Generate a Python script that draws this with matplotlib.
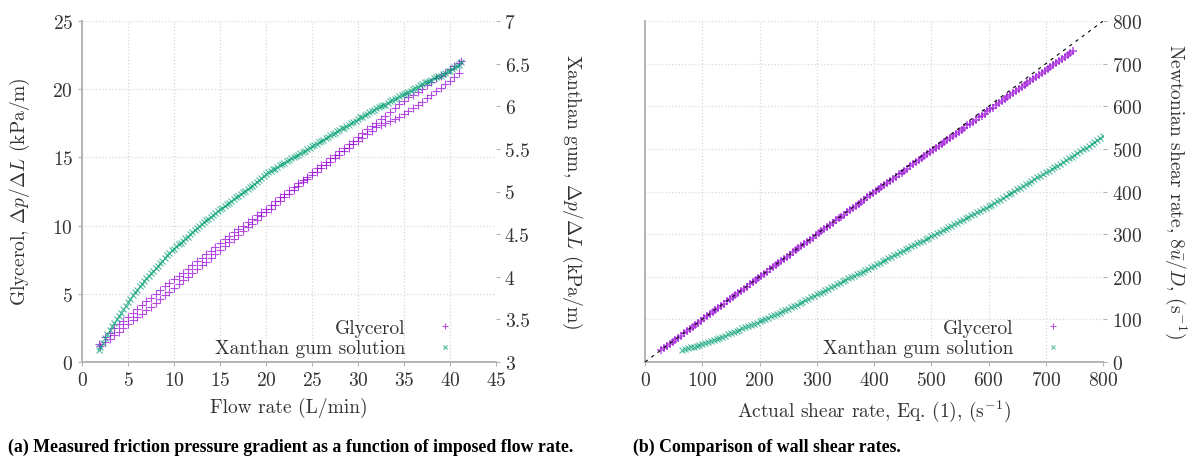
import numpy as np
import matplotlib
matplotlib.use('Agg')
import matplotlib.pyplot as plt

# ---- (a) friction pressure gradient vs flow rate ----
# glycerol, lower sweep (kPa/m, left axis)
gly_q_1 = [2, 2.5, 3, 3.5, 4, 4.5, 5, 5.5, 6, 6.5, 7, 7.5, 8, 8.5, 9, 9.5, 10, 10.5,
           11, 11.5, 12, 12.5, 13, 13.5, 14, 14.5, 15, 15.5, 16, 16.5, 17, 17.5, 18,
           18.5, 19, 19.5, 20, 20.5, 21, 21.5, 22, 22.5, 23, 23.5, 24, 24.5, 25, 25.5,
           26, 26.5, 27, 27.5, 28, 28.5, 29, 29.5, 30, 30.5, 31, 31.5, 32, 32.5, 33,
           33.5, 34, 34.5, 35, 35.5, 36, 36.5, 37, 37.5, 38, 38.5, 39, 39.5, 40, 40.5, 41]
gly_dp_1 = [1.2, 1.45, 1.7, 1.95, 2.2, 2.5, 2.8, 3.05, 3.3, 3.55, 3.8, 4.05, 4.3, 4.6,
            4.9, 5.15, 5.4, 5.7, 6.0, 6.25, 6.5, 6.8, 7.1, 7.35, 7.6, 7.9, 8.2, 8.5, 8.8,
            9.05, 9.3, 9.6, 9.9, 10.15, 10.4, 10.7, 11.0, 11.25, 11.5, 11.8, 12.1, 12.35,
            12.6, 12.9, 13.2, 13.45, 13.7, 13.95, 14.2, 14.45, 14.7, 14.95, 15.2, 15.45,
            15.7, 15.95, 16.2, 16.45, 16.7, 16.95, 17.2, 17.35, 17.5, 17.65, 17.8, 18.0,
            18.2, 18.4, 18.6, 18.85, 19.1, 19.35, 19.6, 19.85, 20.1, 20.35, 20.6, 20.9, 21.2]
# glycerol, upper sweep
gly_q_2 = [1.8, 2.5, 3, 3.5, 4, 4.5, 5, 5.5, 6, 6.5, 7, 7.5, 8, 8.5, 9, 9.5, 10, 10.5,
           11, 11.5, 12, 12.5, 13, 13.5, 14, 14.5, 15, 15.5, 16, 16.5, 17, 17.5, 18,
           18.5, 19, 19.5, 20, 20.5, 21, 21.5, 22, 22.5, 23, 23.5, 24, 24.5, 25, 25.5,
           26, 26.5, 27, 27.5, 28, 28.5, 29, 29.5, 30, 30.5, 31, 31.5, 32, 32.5, 33,
           33.5, 34, 34.5, 35, 35.5, 36, 36.5, 37, 37.5, 38, 38.5, 39, 39.5, 40, 40.5,
           41, 41.2]
gly_dp_2 = [1.3, 1.8, 2.15, 2.5, 2.75, 3.0, 3.3, 3.6, 3.9, 4.2, 4.45, 4.7, 5.0, 5.3,
            5.55, 5.8, 6.05, 6.3, 6.55, 6.8, 7.1, 7.4, 7.65, 7.9, 8.15, 8.4, 8.7, 9.0,
            9.25, 9.5, 9.75, 10.0, 10.25, 10.5, 10.75, 11.0, 11.25, 11.5, 11.8, 12.1,
            12.35, 12.6, 12.85, 13.1, 13.35, 13.6, 13.9, 14.2, 14.45, 14.7, 14.95, 15.2,
            15.45, 15.7, 15.95, 16.2, 16.5, 16.8, 17.05, 17.3, 17.55, 17.8, 18.05, 18.3,
            18.6, 18.9, 19.15, 19.4, 19.6, 19.8, 20.05, 20.3, 20.55, 20.8, 21.0, 21.2,
            21.45, 21.7, 21.95, 22.1]

# xanthan gum solution, two sweeps (kPa/m, right axis)
xan_q_1 = [2, 2.5, 3, 3.5, 4, 4.5, 5, 5.5, 6, 6.5, 7, 7.5, 8, 8.5, 9, 9.5, 10, 10.5,
           11, 11.5, 12, 12.5, 13, 13.5, 14, 14.5, 15, 15.5, 16, 16.5, 17, 17.5, 18,
           18.5, 19, 19.5, 20, 20.5, 21, 21.5, 22, 22.5, 23, 23.5, 24, 24.5, 25, 25.5,
           26, 26.5, 27, 27.5, 28, 28.5, 29, 29.5, 30, 30.5, 31, 31.5, 32, 32.5, 33,
           33.5, 34, 34.5, 35, 35.5, 36, 36.5, 37, 37.5, 38, 38.5, 39, 39.5, 40, 40.5, 41]
xan_dp_1 = [3.18, 3.28, 3.37, 3.46, 3.54, 3.62, 3.70, 3.78, 3.85, 3.92, 3.98, 4.04,
            4.10, 4.16, 4.22, 4.28, 4.33, 4.38, 4.42, 4.47, 4.52, 4.57, 4.62, 4.66, 4.70,
            4.75, 4.79, 4.83, 4.87, 4.91, 4.95, 4.99, 5.03, 5.07, 5.11, 5.16, 5.21, 5.24,
            5.27, 5.31, 5.34, 5.37, 5.40, 5.43, 5.46, 5.50, 5.53, 5.56, 5.59, 5.63, 5.66,
            5.69, 5.72, 5.75, 5.78, 5.82, 5.85, 5.88, 5.91, 5.95, 5.98, 6.00, 6.02, 6.06,
            6.09, 6.12, 6.14, 6.17, 6.20, 6.23, 6.26, 6.29, 6.31, 6.34, 6.36, 6.39, 6.42,
            6.46, 6.49]
xan_q_2 = [1.8, 2.25, 2.75, 3.25, 3.75, 4.25, 4.75, 5.25, 5.75, 6.25, 6.75, 7.25, 7.75,
           8.25, 8.75, 9.25, 9.75, 10.25, 10.75, 11.25, 11.75, 12.25, 12.75, 13.25, 13.75,
           14.25, 14.75, 15.25, 15.75, 16.25, 16.75, 17.25, 17.75, 18.25, 18.75, 19.25,
           19.75, 20.25, 20.75, 21.25, 21.75, 22.25, 22.75, 23.25, 23.75, 24.25, 24.75,
           25.25, 25.75, 26.25, 26.75, 27.25, 27.75, 28.25, 28.75, 29.25, 29.75, 30.25,
           30.75, 31.25, 31.75, 32.25, 32.75, 33.25, 33.75, 34.25, 34.75, 35.25, 35.75,
           36.25, 36.75, 37.25, 37.75, 38.25, 38.75, 39.25, 39.75, 40.25, 40.75, 41.2]
xan_dp_2 = [3.14, 3.22, 3.33, 3.42, 3.50, 3.58, 3.66, 3.74, 3.82, 3.89, 3.95, 4.01,
            4.07, 4.13, 4.19, 4.25, 4.31, 4.36, 4.40, 4.45, 4.50, 4.55, 4.60, 4.64, 4.68,
            4.72, 4.77, 4.81, 4.85, 4.89, 4.93, 4.97, 5.01, 5.05, 5.09, 5.13, 5.18, 5.23,
            5.26, 5.29, 5.32, 5.36, 5.39, 5.42, 5.45, 5.48, 5.51, 5.55, 5.58, 5.61, 5.64,
            5.68, 5.71, 5.74, 5.77, 5.80, 5.83, 5.87, 5.90, 5.93, 5.96, 5.99, 6.01, 6.04,
            6.07, 6.10, 6.13, 6.16, 6.18, 6.22, 6.25, 6.28, 6.30, 6.33, 6.35, 6.38, 6.41,
            6.44, 6.47, 6.52]

# ---- (b) wall shear rates (1/s) ----
gly_actual_1 = [28, 38, 48, 58, 68, 78, 88, 98, 108, 118, 128, 138, 148, 158, 168, 178,
                188, 198, 208, 218, 228, 238, 248, 258, 268, 278, 288, 298, 308, 318, 328,
                338, 348, 358, 368, 378, 388, 398, 408, 418, 428, 438, 448, 458, 468, 478,
                488, 498, 508, 518, 528, 538, 548, 558, 568, 578, 588, 598, 608, 618, 628,
                638, 648, 658, 668, 678, 688, 698, 708, 718, 728, 738, 748]
gly_newt_1 = [27, 37, 47, 57, 67, 77, 87, 97, 107, 117, 127, 137, 147, 157, 167, 177,
              187, 197, 207, 217, 227, 237, 247, 257, 267, 277, 287, 297, 307, 317, 327,
              337, 346, 356, 366, 376, 386, 396, 405, 415, 425, 435, 444, 454, 464, 473,
              483, 492, 502, 512, 521, 531, 540, 550, 559, 569, 578, 588, 597, 607, 616,
              626, 635, 645, 654, 663, 673, 682, 692, 701, 711, 720, 730]
gly_actual_2 = [33, 43, 53, 63, 73, 83, 93, 103, 113, 123, 133, 143, 153, 163, 173, 183,
                193, 203, 213, 223, 233, 243, 253, 263, 273, 283, 293, 303, 313, 323, 333,
                343, 353, 363, 373, 383, 393, 403, 413, 423, 433, 443, 453, 463, 473, 483,
                493, 503, 513, 523, 533, 543, 553, 563, 573, 583, 593, 603, 613, 623, 633,
                643, 653, 663, 673, 683, 693, 703, 713, 723, 733, 743]
gly_newt_2 = [32, 42, 52, 62, 72, 82, 92, 102, 112, 122, 132, 142, 152, 162, 172, 182,
              192, 202, 212, 222, 232, 242, 252, 262, 272, 282, 292, 302, 312, 322, 332,
              341, 351, 361, 371, 381, 391, 401, 410, 420, 430, 440, 449, 459, 469, 478,
              488, 497, 507, 517, 526, 536, 545, 555, 564, 574, 583, 593, 602, 612, 621,
              631, 640, 650, 659, 668, 678, 687, 697, 706, 716, 725]
xan_actual_1 = [65, 75, 85, 95, 105, 115, 125, 135, 145, 155, 165, 175, 185, 195, 205,
                215, 225, 235, 245, 255, 265, 275, 285, 295, 305, 315, 325, 335, 345, 355,
                365, 375, 385, 395, 405, 415, 425, 435, 445, 455, 465, 475, 485, 495, 505,
                515, 525, 535, 545, 555, 565, 575, 585, 595, 605, 615, 625, 635, 645, 655,
                665, 675, 685, 695, 705, 715, 725, 735, 745, 755, 765, 775, 785, 795, 800]
xan_newt_1 = [28, 32, 36, 40, 44, 49, 54, 59, 65, 70, 76, 81, 87, 92, 98, 104, 110, 116,
              122, 128, 134, 141, 148, 155, 162, 168, 175, 182, 189, 196, 202, 209, 215,
              222, 229, 236, 243, 250, 257, 264, 271, 278, 285, 292, 299, 306, 313, 320,
              327, 334, 341, 348, 355, 362, 369, 377, 385, 393, 401, 409, 417, 425, 433,
              441, 449, 457, 465, 473, 482, 490, 499, 507, 516, 525, 530]
xan_actual_2 = [70, 80, 90, 100, 110, 120, 130, 140, 150, 160, 170, 180, 190, 200, 210,
                220, 230, 240, 250, 260, 270, 280, 290, 300, 310, 320, 330, 340, 350, 360,
                370, 380, 390, 400, 410, 420, 430, 440, 450, 460, 470, 480, 490, 500, 510,
                520, 530, 540, 550, 560, 570, 580, 590, 600, 610, 620, 630, 640, 650, 660,
                670, 680, 690, 700, 710, 720, 730, 740, 750, 760, 770, 780, 790]
xan_newt_2 = [30, 34, 38, 42, 46.5, 51.5, 56.5, 62, 67.5, 73, 78.5, 84, 89.5, 95, 101,
              107, 113, 119, 125, 131, 137.5, 144.5, 151.5, 158.5, 165, 171.5, 178.5,
              185.5, 192.5, 199, 205.5, 212, 218.5, 225.5, 232.5, 239.5, 246.5, 253.5,
              260.5, 267.5, 274.5, 281.5, 288.5, 295.5, 302.5, 309.5, 316.5, 323.5, 330.5,
              337.5, 344.5, 351.5, 358.5, 365.5, 373, 381, 389, 397, 405, 413, 421, 429,
              437, 445, 453, 461, 469, 477.5, 486, 494.5, 503, 511.5, 520.5]
ident = [0, 800]

purple = '#9400d3'
green = '#009e73'
spine_c = '#b4b4b4'
text_c = '#333333'
fs = 14

plt.rcParams['font.family'] = 'serif'
plt.rcParams['font.serif'] = ['cmr10']
plt.rcParams['mathtext.fontset'] = 'cm'
plt.rcParams['axes.formatter.use_mathtext'] = True
plt.rcParams['font.size'] = fs


def style(ax):
    for s in ['top', 'right']:
        ax.spines[s].set_visible(False)
    for s in ['left', 'bottom']:
        ax.spines[s].set_color(spine_c)
        ax.spines[s].set_linewidth(1.4)
    ax.grid(True, linestyle=':', color='#d8d8d8', linewidth=0.9)
    ax.tick_params(colors=spine_c, labelcolor=text_c, length=3, width=0.8,
                   direction='out', labelsize=fs)


fig = plt.figure(figsize=(11.89, 4.6), dpi=100)

# panel (a)
ax1 = fig.add_axes([0.069, 0.211, 0.348, 0.741])
ax1b = ax1.twinx()
style(ax1)
for s in ax1b.spines.values():
    s.set_visible(False)
ax1b.tick_params(colors=spine_c, labelcolor=text_c, length=3, width=0.8,
                 direction='out', labelsize=fs)

mk = dict(ls='none', alpha=0.7)
ax1.plot(gly_q_1, gly_dp_1, marker='+', ms=5.5, mew=0.8, color=purple, label='Glycerol', **mk)
ax1.plot(gly_q_2, gly_dp_2, marker='+', ms=5.5, mew=0.8, color=purple, **mk)
ax1b.plot(xan_q_1, xan_dp_1, marker='x', ms=4.8, mew=0.8, color=green,
          label='Xanthan gum solution', **mk)
ax1b.plot(xan_q_2, xan_dp_2, marker='x', ms=4.8, mew=0.8, color=green, **mk)

ax1.set_xlim(0, 45)
ax1.set_ylim(0, 25)
ax1b.set_ylim(3, 7)
ax1.set_xticks(np.arange(0, 46, 5))
ax1.set_yticks(np.arange(0, 26, 5))
ax1b.set_yticks(np.arange(3, 7.01, 0.5))
ax1b.set_yticklabels(['3', '3.5', '4', '4.5', '5', '5.5', '6', '6.5', '7'])
ax1.set_xlabel('Flow rate (L/min)', color=text_c, fontsize=fs, labelpad=6)

h1, l1 = ax1.get_legend_handles_labels()
h2, l2 = ax1b.get_legend_handles_labels()
leg = ax1b.legend(h1 + h2, l1 + l2, loc='lower right', bbox_to_anchor=(0.952, -0.021),
                  frameon=False, markerfirst=False, handlelength=2.0, handletextpad=1.05,
                  labelspacing=0.15, borderpad=0.1, fontsize=fs, markerscale=0.75)
for t in leg.get_texts():
    t.set_color(text_c)

fig.text(0.017, 0.583, r'Glycerol, $\Delta p/\Delta L$ (kPa/m)', rotation=90,
         ha='center', va='center', color=text_c, fontsize=fs)
fig.text(0.481, 0.583, r'Xanthan gum, $\Delta p/\Delta L$ (kPa/m)', rotation=-90,
         ha='center', va='center', color=text_c, fontsize=fs)

# panel (b)
ax2 = fig.add_axes([0.5425, 0.211, 0.3852, 0.741])
style(ax2)
ax2.yaxis.tick_right()
ax2.tick_params(axis='y', left=False, right=True)

ax2.plot(gly_actual_1, gly_newt_1, marker='+', ms=6, mew=1.1, color=purple,
         label='Glycerol', **mk)
ax2.plot(gly_actual_2, gly_newt_2, marker='+', ms=6, mew=1.1, color=purple, **mk)
ax2.plot(xan_actual_1, xan_newt_1, marker='x', ms=5, mew=0.8, color=green,
         label='Xanthan gum solution', **mk)
ax2.plot(xan_actual_2, xan_newt_2, marker='x', ms=5, mew=0.8, color=green, **mk)
ax2.plot(ident, ident, ls=(0, (3, 4)), color='black', lw=0.8, zorder=5)

ax2.set_xlim(0, 800)
ax2.set_ylim(0, 800)
ax2.set_xticks(np.arange(0, 801, 100))
ax2.set_yticks(np.arange(0, 801, 100))
ax2.set_xlabel(r'Actual shear rate, Eq. (1), (s$^{-1}$)', color=text_c, fontsize=fs,
               labelpad=6)
leg2 = ax2.legend(loc='lower right', bbox_to_anchor=(0.959, -0.021), frameon=False,
                  markerfirst=False, handlelength=2.0, handletextpad=1.05,
                  labelspacing=0.15, borderpad=0.1, fontsize=fs, markerscale=0.65)
for t in leg2.get_texts():
    t.set_color(text_c)
for h in leg2.legend_handles:
    h.set_markeredgewidth(0.7)

fig.text(0.9885, 0.583, r'Newtonian shear rate, $8\bar{u}/D$, (s$^{-1}$)', rotation=-90,
         ha='center', va='center', color=text_c, fontsize=fs)

# captions
fig.text(0.007, 0.028, '(a) Measured friction pressure gradient as a function of imposed flow rate.',
         family='Liberation Serif', weight='bold', fontsize=12.8, color='black',
         ha='left', va='center')
fig.text(0.532, 0.028, '(b) Comparison of wall shear rates.',
         family='Liberation Serif', weight='bold', fontsize=12.8, color='black',
         ha='left', va='center')

fig.savefig('out.png', dpi=100)
